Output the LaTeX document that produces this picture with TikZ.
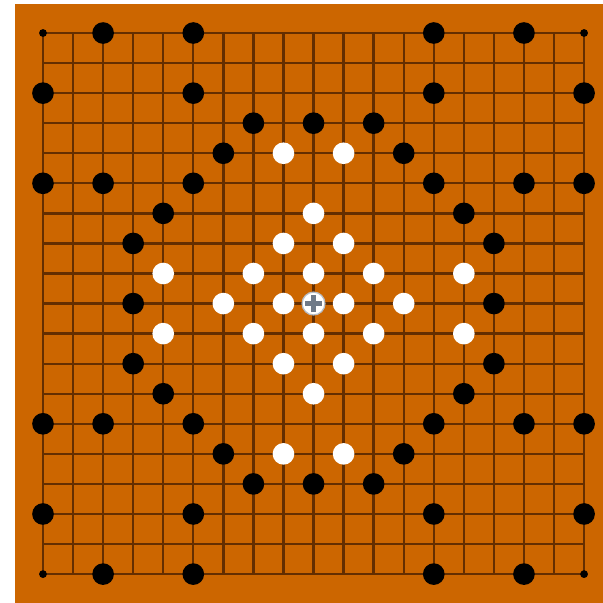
\documentclass[tikz,border=0pt]{standalone}
\usetikzlibrary{positioning}

\definecolor{board}{RGB}{204,102,0}
\definecolor{gridline}{RGB}{100,46,0}
\definecolor{markgray}{RGB}{112,122,136}

\begin{document}
\begin{tikzpicture}[
  x=0.5cm, y=-0.5cm,
  gline/.style={gridline, line width=1.1pt},
  stone/.style={circle, inner sep=0pt, minimum size=0.36cm},
  blk/.style={stone, fill=black},
  wht/.style={stone, fill=white},
  hoshi/.style={circle, inner sep=0pt, minimum size=0.13cm, fill=black},
  cross/.style={markgray, line width=2.2pt}
]

\useasboundingbox (-1.43,-1.098) rectangle (18.63,18.96);
\fill[board] (-0.93,-0.965) rectangle (18.63,18.96);

% grid
\foreach \k in {0,...,18} {
  \draw[gline] (\k,0) -- (\k,18);
  \draw[gline] (0,\k) -- (18,\k);
}

% corner dots
\foreach \c/\r in {0/0,18/0,0/18,18/18}
  \node[hoshi] (d-\c-\r) at (\c,\r) {};

% black stones
\foreach \c/\r in {2/0,5/0,13/0,16/0,
                   0/2,5/2,13/2,18/2,
                   7/3,9/3,11/3,
                   6/4,12/4,
                   0/5,2/5,5/5,13/5,16/5,18/5,
                   4/6,14/6,
                   3/7,15/7,
                   3/9,15/9,
                   3/11,15/11,
                   4/12,14/12,
                   0/13,2/13,5/13,13/13,16/13,18/13,
                   6/14,12/14,
                   7/15,9/15,11/15,
                   0/16,5/16,13/16,18/16,
                   2/18,5/18,13/18,16/18}
  \node[blk] (b-\c-\r) at (\c,\r) {};

% white stones
\foreach \c/\r in {8/4,10/4,
                   9/6,
                   8/7,10/7,
                   4/8,7/8,9/8,11/8,14/8,
                   6/9,8/9,10/9,12/9,
                   4/10,7/10,9/10,11/10,14/10,
                   8/11,10/11,
                   9/12,
                   8/14,10/14}
  \node[wht] (w-\c-\r) at (\c,\r) {};

% centre
\node[wht, minimum size=0.38cm, draw=markgray!50, line width=0.6pt] (ctr) at (9,9) {};
\draw[cross] ([xshift=-0.145cm]ctr.center) -- ([xshift=0.145cm]ctr.center);
\draw[cross] ([yshift=-0.145cm]ctr.center) -- ([yshift=0.145cm]ctr.center);

\end{tikzpicture}
\end{document}
